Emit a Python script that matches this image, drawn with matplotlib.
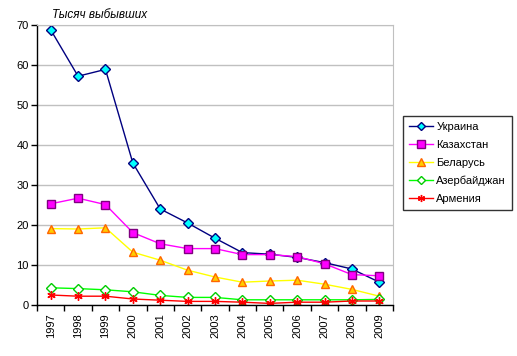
import matplotlib
matplotlib.use("Agg")
import matplotlib.pyplot as plt
import numpy as np

plt.rcParams['font.family'] = ['Liberation Sans', 'DejaVu Sans']

years = ['1997', '1998', '1999', '2000', '2001', '2002', '2003', '2004', '2005', '2006', '2007', '2008', '2009']
ukraine = [68.8, 57.2, 58.9, 35.5, 24.0, 20.5, 16.7, 13.1, 12.7, 11.9, 10.6, 9.0, 5.7]
kazakhstan = [25.3, 26.7, 25.1, 18.1, 15.3, 14.1, 14.1, 12.6, 12.6, 12.1, 10.3, 7.6, 7.3]
belarus = [19.1, 19.0, 19.3, 13.2, 11.2, 8.7, 7.0, 5.7, 6.0, 6.2, 5.2, 3.9, 2.2]
azerbaijan = [4.3, 4.1, 3.8, 3.3, 2.4, 1.9, 1.9, 1.3, 1.3, 1.3, 1.3, 1.3, 1.4]
armenia = [2.5, 2.2, 2.2, 1.5, 1.2, 0.9, 0.9, 0.7, 0.4, 0.7, 0.7, 1.0, 1.0]
names = ['Украина', 'Казахстан', 'Беларусь', 'Азербайджан', 'Армения']
yticks = [0, 10, 20, 30, 40, 50, 60, 70]

fig = plt.figure(figsize=(5.17, 3.56), dpi=100)
ax = fig.add_axes([37/517, 1-305/356, (393-37)/517, (305-25)/356])
x = np.arange(len(years))

styles = [
    dict(color='#000080', marker='D', mfc='#00FFFF', mec='#000080', ms=5),
    dict(color='#FF00FF', marker='s', mfc='#FF00FF', mec='#800080', ms=6),
    dict(color='#FFFF00', marker='^', mfc='#FFCC00', mec='#FF6600', ms=6),
    dict(color='#00FF00', marker='D', mfc='white', mec='#00CC00', ms=5),
    dict(color='#FF0000', marker=(6, 2, 0), mfc='#FF0000', mec='#FF0000', ms=6),
]
for data, name, st in zip([ukraine, kazakhstan, belarus, azerbaijan, armenia], names, styles):
    ax.plot(x, data, lw=1.0, mew=1.0, label=name, **st)

ax.set_xlim(-0.5, len(years) - 0.5)
ax.set_ylim(0, 70)
ax.set_yticks(yticks)
ax.set_yticklabels([str(v) for v in yticks], fontsize=8)
ax.set_xticks(x)
ax.set_xticklabels(years, rotation=90, fontsize=8)
ax.set_xticks(np.arange(-0.5, len(years), 1.0), minor=True)
ax.tick_params(axis='x', which='major', length=0, pad=6)
ax.tick_params(axis='x', which='minor', length=4, direction='out', width=1)
ax.tick_params(axis='y', length=4, direction='out', width=1, pad=2)
ax.yaxis.grid(True, color='#C0C0C0', lw=1)
ax.set_axisbelow(True)
for s in ['top', 'right']:
    ax.spines[s].set_color('#C0C0C0')
for s in ['left', 'bottom']:
    ax.spines[s].set_color('black')
    ax.spines[s].set_linewidth(1)

fig.text(52/517, 1-15/356, 'Тысяч выбывших', fontsize=8.5, style='italic', ha='left', va='center')

leg = fig.legend(loc='upper left', bbox_to_anchor=(403/517, 1-116/356), fontsize=8,
                 frameon=True, fancybox=False, edgecolor='black', borderpad=0.5,
                 borderaxespad=0, labelspacing=0.72, handlelength=2.2, handletextpad=0.3,
                 markerscale=0.85)
leg.get_frame().set_linewidth(1)

fig.savefig('out.png', dpi=100)
